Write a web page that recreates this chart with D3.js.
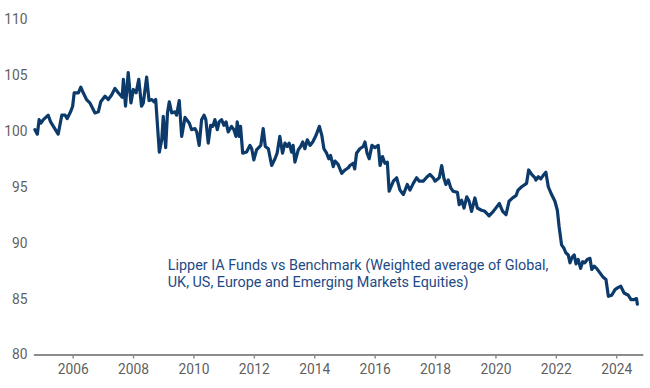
<!DOCTYPE html>
<html>
<head>
<meta charset="utf-8">
<script src="https://cdn.jsdelivr.net/npm/d3@7"></script>
<style>
  html, body { margin: 0; padding: 0; background: #ffffff; }
  svg { display: block; font-family: Roboto, "Liberation Sans", Arial, sans-serif; }
</style>
</head>
<body>
<svg id="chart" width="650" height="388"></svg>
<script>
// Decimal-year dates and index values
const dates = [
  2004.75,2004.83,2004.89,2004.95,2005.03,2005.19,2005.27,2005.52,2005.64,2005.75,
  2005.82,2005.93,2006.00,2006.05,2006.19,2006.27,2006.35,2006.46,2006.57,2006.74,
  2006.85,2006.93,2007.07,2007.18,2007.29,2007.40,2007.51,2007.64,2007.68,2007.75,
  2007.84,2007.93,2008.01,2008.10,2008.19,2008.28,2008.34,2008.45,2008.53,2008.62,
  2008.69,2008.75,2008.87,2008.95,2009.00,2009.08,2009.14,2009.20,2009.28,2009.39,
  2009.44,2009.53,2009.61,2009.72,2009.86,2009.94,2010.05,2010.11,2010.19,2010.27,
  2010.35,2010.41,2010.49,2010.57,2010.64,2010.71,2010.79,2010.85,2010.93,2011.01,
  2011.08,2011.15,2011.26,2011.34,2011.41,2011.45,2011.52,2011.56,2011.63,2011.76,
  2011.87,2011.93,2012.00,2012.09,2012.23,2012.31,2012.38,2012.48,2012.59,2012.70,
  2012.77,2012.86,2012.95,2013.03,2013.11,2013.17,2013.25,2013.30,2013.36,2013.47,
  2013.55,2013.62,2013.69,2013.77,2013.86,2013.95,2014.06,2014.17,2014.25,2014.32,
  2014.41,2014.48,2014.54,2014.63,2014.69,2014.79,2014.91,2015.02,2015.13,2015.18,
  2015.29,2015.34,2015.40,2015.51,2015.62,2015.68,2015.75,2015.82,2015.91,2016.01,
  2016.12,2016.18,2016.26,2016.34,2016.42,2016.48,2016.62,2016.73,2016.84,2016.95,
  2017.08,2017.17,2017.28,2017.39,2017.48,2017.61,2017.74,2017.83,2017.94,2018.00,
  2018.14,2018.22,2018.29,2018.36,2018.44,2018.52,2018.60,2018.74,2018.80,2018.88,
  2018.96,2019.05,2019.13,2019.21,2019.32,2019.40,2019.54,2019.65,2019.79,2019.93,
  2020.13,2020.24,2020.35,2020.45,2020.57,2020.68,2020.75,2020.87,2021.03,2021.10,
  2021.20,2021.31,2021.34,2021.42,2021.50,2021.58,2021.67,2021.75,2021.86,2021.97,
  2022.05,2022.11,2022.19,2022.27,2022.33,2022.41,2022.47,2022.54,2022.61,2022.67,
  2022.74,2022.82,2022.89,2022.96,2023.04,2023.13,2023.19,2023.27,2023.35,2023.46,
  2023.57,2023.66,2023.74,2023.85,2023.96,2024.07,2024.15,2024.26,2024.40,2024.49,
  2024.58,2024.67,2024.70
];
const values = [
  100.1,99.7,101.0,100.7,101.0,101.4,100.8,99.7,101.4,101.4,
  101.1,101.7,102.2,103.4,103.4,103.9,103.4,102.8,102.5,101.6,
  101.7,102.6,103.1,102.8,103.2,103.8,103.4,103.0,104.6,102.2,
  105.2,102.5,103.7,103.4,104.6,102.2,102.5,104.8,102.7,102.8,
  102.6,102.8,98.1,99.2,101.3,98.5,101.6,102.6,101.6,101.7,
  101.4,102.7,99.5,101.2,100.7,100.1,100.2,99.9,98.7,101.0,
  101.4,101.0,98.9,100.5,100.4,101.0,100.1,100.8,101.0,100.5,
  100.8,99.9,100.4,100.1,99.5,100.8,99.5,100.4,98.0,98.1,
  98.7,98.4,97.4,98.3,98.7,100.2,98.6,98.4,96.9,97.5,
  98.0,99.5,98.0,98.9,98.6,98.9,98.1,98.7,97.2,98.3,
  98.6,99.0,98.4,99.2,98.7,99.0,99.6,100.4,99.6,98.4,
  98.0,97.5,97.8,96.8,97.3,97.0,96.2,96.5,96.7,96.9,
  97.1,96.6,98.0,98.4,98.6,99.0,98.0,97.5,98.7,98.5,
  98.7,96.9,97.7,97.1,97.2,94.6,95.5,95.8,94.7,94.3,
  95.2,94.7,95.3,95.8,95.5,95.5,95.9,96.1,95.8,95.5,
  95.8,96.9,95.8,95.2,95.6,94.9,94.6,94.5,93.4,93.8,
  93.1,94.1,93.7,92.8,94.0,93.1,92.9,92.8,92.4,92.8,
  93.5,92.8,92.5,93.7,94.0,94.2,94.7,95.0,95.3,96.5,
  96.1,95.8,95.6,95.9,95.7,96.0,96.3,95.0,94.3,93.7,
  92.9,91.4,89.8,89.5,89.1,88.9,88.2,88.7,88.9,88.1,
  88.5,87.7,88.3,88.2,88.5,88.6,87.6,87.9,87.7,87.3,
  86.9,86.7,85.2,85.3,85.8,86.0,86.1,85.5,85.3,84.9,
  84.9,85.0,84.5
];
const xTickYears = [2006,2008,2010,2012,2014,2016,2018,2020,2022,2024];
const yTickValues = [80,85,90,95,100,105,110];
const annotationLines = [
  "Lipper IA Funds vs Benchmark (Weighted average of Global,",
  "UK, US, Europe and Emerging Markets Equities)"
];

const data = dates.map((d, i) => ({ t: d, v: values[i] }));
const svg = d3.select("#chart");
const fontStack = "Roboto, 'Liberation Sans', Arial, sans-serif";

const x = d3.scaleLinear().domain([2004.7, 2024.88]).range([33.4, 642.8]);
const y = d3.scaleLinear().domain([80, 110]).range([354.5, 19]);

// Y axis labels (no line, no ticks)
const yAxis = svg.append("g")
  .attr("transform", `translate(${x.range()[0]},0)`)
  .call(d3.axisLeft(y).tickValues(yTickValues).tickSize(0).tickPadding(6).tickFormat(d3.format("d")));
yAxis.select(".domain").remove();
yAxis.selectAll("text")
  .attr("fill", "#5f5f5f")
  .style("font-size", "13.8px")
  .style("font-family", fontStack);

// X axis
const xAxis = svg.append("g")
  .attr("transform", `translate(0,${y(80)})`)
  .call(d3.axisBottom(x).tickValues(xTickYears).tickSizeInner(4).tickSizeOuter(0).tickPadding(6).tickFormat(d3.format("d")));
xAxis.select(".domain").attr("stroke", "#8c8c8c").attr("stroke-width", 2);
xAxis.selectAll(".tick line").attr("stroke", "#8c8c8c").attr("stroke-width", 1.5);
xAxis.selectAll("text")
  .attr("fill", "#5f5f5f")
  .style("font-size", "13.8px")
  .style("font-family", fontStack);

// Line
const line = d3.line().x(d => x(d.t)).y(d => y(d.v));
svg.append("path")
  .datum(data)
  .attr("fill", "none")
  .attr("stroke", "#0b3a6b")
  .attr("stroke-width", 3.2)
  .attr("stroke-linejoin", "round")
  .attr("stroke-linecap", "round")
  .attr("d", line);

// Annotation
const ann = svg.append("text")
  .attr("x", x(2009.15))
  .attr("y", y(87.55))
  .attr("fill", "#1d4a85")
  .style("font-size", "14.4px")
  .style("font-family", fontStack);
ann.selectAll("tspan")
  .data(annotationLines)
  .join("tspan")
  .attr("x", x(2009.15))
  .attr("dy", (d, i) => i === 0 ? 0 : 17)
  .text(d => d);
</script>
</body>
</html>
